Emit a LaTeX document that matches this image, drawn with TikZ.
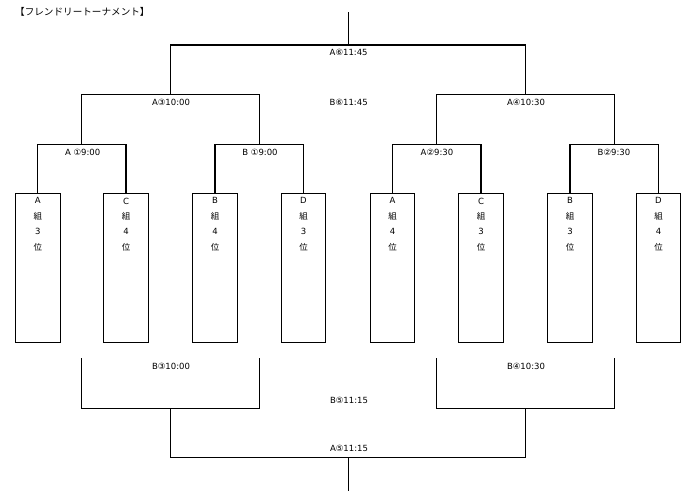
\documentclass[tikz,border=0pt]{standalone}
\usepackage{fontspec}
\setmainfont{DejaVu Sans}
\newfontfamily\jp{Noto Sans CJK JP}
\begin{document}
\begin{tikzpicture}[x=1pt,y=-1pt,
  every node/.style={inner sep=0pt},
  line/.style={draw=black,line width=1.1pt},
  team/.style={draw=black,line width=1.1pt,minimum width=44.5pt,minimum height=149pt,anchor=north},
  teamtxt/.style={anchor=north,align=center,font={\fontsize{8.5}{15.4}\selectfont}},
  match/.style={font={\fontsize{8.5}{10}\selectfont}}]
\useasboundingbox (0,0) rectangle (689,500);
% title
\node[anchor=west,font={\jp\fontsize{9.6}{11}\selectfont}] (title) at (15,12) {【フレンドリートーナメント】};
% team boxes
\foreach \i/\x/\g/\r in {1/37.8/A/3,2/126/C/4,3/215/B/4,4/303.5/D/3,5/392.5/A/4,6/481/C/3,7/570/B/3,8/658.5/D/4}{
  \node[team] (b\i) at (\x,193.3) {};
  \node[teamtxt] (t\i) at (\x,197.6) {\g\\{\jp 組}\\\r\\{\jp 位}};
}
% junction coordinates (top)
\coordinate (r1a) at (81.9,144.3);
\coordinate (r1b) at (259.3,144.3);
\coordinate (r1c) at (436.8,144.3);
\coordinate (r1d) at (614.3,144.3);
\coordinate (r2a) at (170.6,94.3);
\coordinate (r2b) at (525.6,94.3);
\coordinate (r3) at (348.1,45);
\coordinate (top) at (348.1,12);
\draw[line] (b1.north) |- (r1a) -| (b2.north);
\draw[line] (b3.north) |- (r1b) -| (b4.north);
\draw[line] (b5.north) |- (r1c) -| (b6.north);
\draw[line] (b7.north) |- (r1d) -| (b8.north);
\draw[line] (r1a) |- (r2a) -| (r1b);
\draw[line] (r1c) |- (r2b) -| (r1d);
\draw[line] (r2a) |- (r3) -| (r2b);
\draw[line] (r3) -- (top);
% bottom (losers) bracket
\coordinate (s1a) at (81.9,358.3);
\coordinate (s1b) at (259.3,358.3);
\coordinate (s1c) at (436.8,358.3);
\coordinate (s1d) at (614.3,358.3);
\coordinate (q1) at (170.6,408.3);
\coordinate (q2) at (525.6,408.3);
\coordinate (q3) at (348.1,457.3);
\coordinate (bot) at (348.1,490.7);
\draw[line] (s1a) |- (q1) -| (s1b);
\draw[line] (s1c) |- (q2) -| (s1d);
\draw[line] (q1) |- (q3) -| (q2);
\draw[line] (q3) -- (bot);
% match labels
\node[match] (m6a) at (348.7,52) {A⑥11:45};
\node[match] (m6b) at (348.7,102) {B⑥11:45};
\node[match] (m3a) at (171,102) {A③10:00};
\node[match] (m4a) at (526,102) {A④10:30};
\node[match] (m1a) at (82.7,152) {A ①9:00};
\node[match] (m1b) at (260,152) {B ①9:00};
\node[match] (m2a) at (437,152) {A②9:30};
\node[match] (m2b) at (614,152) {B②9:30};
\node[match] (m3b) at (171,366.7) {B③10:00};
\node[match] (m4b) at (526,366.7) {B④10:30};
\node[match] (m5b) at (349,400) {B⑤11:15};
\node[match] (m5a) at (349,448.3) {A⑤11:15};
\end{tikzpicture}
\end{document}
